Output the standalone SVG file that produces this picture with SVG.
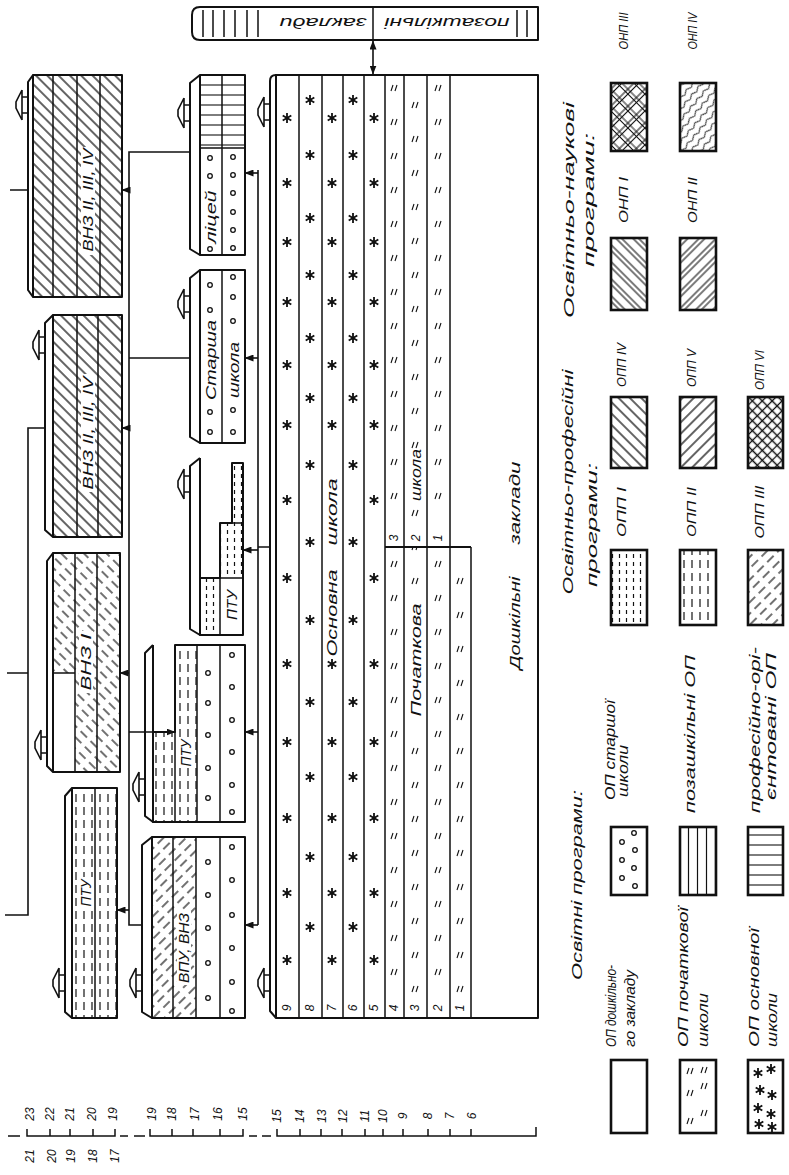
<svg xmlns="http://www.w3.org/2000/svg" width="789" height="1175" viewBox="0 0 789 1175">
<style>
text{font-family:"Liberation Sans","DejaVu Sans",sans-serif;font-style:italic;fill:#111;dominant-baseline:central;text-anchor:middle;font-size:14px}
.s{text-anchor:start}
.sm{font-size:12px}
.lab{font-size:12px}
.o{fill:none;stroke:#111;stroke-width:2;stroke-linejoin:round}
.ob{fill:none;stroke:#111;stroke-width:2.6}
.l{fill:none;stroke:#111;stroke-width:1.5}
.c{fill:none;stroke:#111;stroke-width:1.3}
.w{fill:#fff;stroke:none}
.cn{fill:none;stroke:#111;stroke-width:1.6}
</style>
<defs>
<pattern id="hb" width="8" height="8" patternUnits="userSpaceOnUse" patternTransform="rotate(-45)"><path d="M4,0V8" stroke="#111" stroke-width="1.3"/></pattern>
<pattern id="hf" width="8" height="8" patternUnits="userSpaceOnUse" patternTransform="rotate(45)"><path d="M4,0V8" stroke="#111" stroke-width="1.3"/></pattern>
<pattern id="hbd" width="8" height="14" patternUnits="userSpaceOnUse" patternTransform="rotate(-45)"><path d="M4,0V9" stroke="#111" stroke-width="1.2"/></pattern>
<pattern id="hfd" width="8" height="14" patternUnits="userSpaceOnUse" patternTransform="rotate(45)"><path d="M4,0V9" stroke="#111" stroke-width="1.2"/></pattern>
<pattern id="hx" width="7" height="7" patternUnits="userSpaceOnUse" patternTransform="rotate(45)"><path d="M3.5,0V7M0,3.5H7" stroke="#111" stroke-width="1.3"/></pattern>
<pattern id="hb2" width="12" height="12" patternUnits="userSpaceOnUse" patternTransform="rotate(-45)"><path d="M3,0V12M7,0V12" stroke="#111" stroke-width="1.1"/></pattern>
<pattern id="hf2" width="12" height="12" patternUnits="userSpaceOnUse" patternTransform="rotate(45)"><path d="M3,0V12M7,0V12" stroke="#111" stroke-width="1.1"/></pattern>
<pattern id="hx2" width="12" height="12" patternUnits="userSpaceOnUse" patternTransform="rotate(45)"><path d="M3,0V12M6.5,0V12M0,3H12M0,6.5H12" stroke="#111" stroke-width="1.1"/></pattern>
<pattern id="wv" width="7" height="10" patternUnits="userSpaceOnUse" patternTransform="rotate(40)"><path d="M3.5,0Q6,2.5 3.5,5Q1,7.5 3.5,10" fill="none" stroke="#111" stroke-width="1"/></pattern>
<pattern id="dv" width="8" height="13" patternUnits="userSpaceOnUse"><path d="M4,1V9" stroke="#111" stroke-width="1.2"/></pattern>
<pattern id="dg" width="7" height="8" patternUnits="userSpaceOnUse"><path d="M3.5,2V6" stroke="#111" stroke-width="1.2"/></pattern>
<pattern id="hl" width="10" height="10" patternUnits="userSpaceOnUse"><path d="M0,5H10" stroke="#111" stroke-width="1.1"/></pattern>
<pattern id="vl" width="9" height="10" patternUnits="userSpaceOnUse"><path d="M4.5,0V10" stroke="#111" stroke-width="1.2"/></pattern>
<marker id="ah" markerWidth="9" markerHeight="7" refX="8.5" refY="3.5" orient="auto-start-reverse" markerUnits="userSpaceOnUse"><path d="M0,0 L9,3.5 L0,7 z" fill="#111"/></marker>
<path id="ex" d="M0,-8 H-6 M0,8 H-6 M-6,-15 V15 M-6,-15 L-12,-3 V3 L-6,15" fill="none" stroke="#111" stroke-width="1.6"/>
<path id="st" d="M0,-5 V5 M-4.3,-2.5 L4.3,2.5 M-4.3,2.5 L4.3,-2.5" stroke="#111" stroke-width="1.8"/>
<path id="q" d="M-3,3 L-1,-3 M1,3 L3,-3" stroke="#111" stroke-width="1.1" fill="none"/>
<g id="sA"><use href="#st" y="118"/><use href="#st" y="183"/><use href="#st" y="242"/><use href="#st" y="302"/><use href="#st" y="365"/><use href="#st" y="425"/><use href="#st" y="500"/><use href="#st" y="578"/><use href="#st" y="664"/><use href="#st" y="742"/><use href="#st" y="818"/><use href="#st" y="893"/><use href="#st" y="960"/></g>
<g id="sB"><use href="#st" y="100"/><use href="#st" y="155"/><use href="#st" y="218"/><use href="#st" y="275"/><use href="#st" y="338"/><use href="#st" y="398"/><use href="#st" y="465"/><use href="#st" y="542"/><use href="#st" y="620"/><use href="#st" y="702"/><use href="#st" y="777"/><use href="#st" y="857"/><use href="#st" y="927"/></g>
<g id="qA"><use href="#q" y="88"/><use href="#q" y="122"/><use href="#q" y="156"/><use href="#q" y="190"/><use href="#q" y="224"/><use href="#q" y="258"/><use href="#q" y="292"/><use href="#q" y="326"/><use href="#q" y="360"/><use href="#q" y="394"/><use href="#q" y="428"/><use href="#q" y="462"/><use href="#q" y="496"/><use href="#q" y="530"/><use href="#q" y="564"/><use href="#q" y="598"/><use href="#q" y="632"/><use href="#q" y="666"/><use href="#q" y="700"/><use href="#q" y="734"/><use href="#q" y="768"/><use href="#q" y="802"/><use href="#q" y="836"/><use href="#q" y="870"/><use href="#q" y="904"/><use href="#q" y="938"/><use href="#q" y="972"/></g>
<g id="qB"><use href="#q" y="105"/><use href="#q" y="139"/><use href="#q" y="173"/><use href="#q" y="207"/><use href="#q" y="241"/><use href="#q" y="275"/><use href="#q" y="309"/><use href="#q" y="343"/><use href="#q" y="377"/><use href="#q" y="411"/><use href="#q" y="445"/><use href="#q" y="479"/><use href="#q" y="513"/><use href="#q" y="547"/><use href="#q" y="581"/><use href="#q" y="615"/><use href="#q" y="649"/><use href="#q" y="683"/><use href="#q" y="717"/><use href="#q" y="751"/><use href="#q" y="785"/><use href="#q" y="819"/><use href="#q" y="853"/><use href="#q" y="887"/><use href="#q" y="921"/><use href="#q" y="955"/><use href="#q" y="989"/></g>
<clipPath id="c1"><rect x="445" y="553" width="30" height="460"/></clipPath>
</defs>
<rect width="789" height="1175" fill="#fff"/>

<g id="extracurricular">
<path class="o" d="M200,7 H538 V40 H200 Q192,40 192,32 V15 Q192,7 200,7 Z"/>
<path class="l" d="M203,10V37 M213,10V37 M224,10V37 M235,10V37 M247,10V37 M258,10V37 M373,7V40 M517,10V37 M527,10V37"/>
<text x="447" y="23" textLength="125" lengthAdjust="spacingAndGlyphs" transform="rotate(180 447 23)">позашкільні</text>
<text x="323" y="23" textLength="87" lengthAdjust="spacingAndGlyphs" transform="rotate(180 323 23)">заклади</text>
</g>

<g id="vnz-a">
<rect x="33" y="75" width="89" height="222" fill="url(#hb)"/>
<path class="o" d="M33,75 H122 V297 H33 Z"/>
<path class="o" d="M33,75 L28,82 V290 L33,297"/>
<path class="l" d="M53,75V297 M77,75V297 M100,75V297"/>
<rect class="w" x="81" y="147" width="14" height="108"/>
<text x="88" y="200" textLength="103" lengthAdjust="spacingAndGlyphs" transform="rotate(-90 88 200)">ВНЗ ІІ, ІІІ, ІV</text>
<use href="#ex" x="28" y="105"/>
</g>

<g id="vnz-b">
<rect x="53" y="315" width="69" height="222" fill="url(#hb)"/>
<path class="o" d="M53,315 H122 V537 H53 Z"/>
<path class="o" d="M53,315 L45,323 V530 L53,537"/>
<path class="l" d="M77,315V537 M98,315V537"/>
<rect class="w" x="81" y="374" width="14" height="118"/>
<text x="88" y="433" textLength="113" lengthAdjust="spacingAndGlyphs" transform="rotate(-90 88 433)">ВНЗ ІІ, ІІІ, ІV</text>
<use href="#ex" x="45" y="345"/>
</g>

<g id="vnz-1">
<rect x="75" y="553" width="45" height="219" fill="url(#hbd)"/>
<rect x="53" y="553" width="22" height="120" fill="url(#hbd)"/>
<path class="o" d="M53,553 H120 V772 H53 Z"/>
<path class="o" d="M53,553 L47,561 V766 L53,772"/>
<path class="l" d="M75,553V772 M97,553V772 M53,673H75"/>
<rect class="w" x="79" y="631" width="14" height="62"/>
<text x="86" y="662" textLength="57" lengthAdjust="spacingAndGlyphs" transform="rotate(-90 86 662)">ВНЗ І</text>
<use href="#ex" x="47" y="745"/>
</g>

<g id="ptu-low">
<rect x="72" y="788" width="45" height="230" fill="url(#dv)"/>
<path class="o" d="M72,788 H117 V1018 H72 Z"/>
<path class="o" d="M72,788 L65,796 V1012 L72,1018"/>
<path class="l" d="M95,788V1018"/>
<rect class="w" x="79" y="877" width="14" height="32"/>
<text x="86" y="893" textLength="27" lengthAdjust="spacingAndGlyphs" transform="rotate(-90 86 893)">ПТУ</text>
<use href="#ex" x="65" y="983"/>
</g>

<g id="vpu-vnz">
<rect x="152" y="837" width="44" height="181" fill="url(#hfd)"/>
<path class="o" d="M152,837 H245 V1018 H152 Z"/>
<path class="o" d="M152,837 L142,845 V1012 L152,1018"/>
<path class="l" d="M173,837V1018 M196,837V1018 M220,837V1018"/>
<rect class="w" x="177" y="911" width="14" height="74"/>
<text x="184" y="948" textLength="70" lengthAdjust="spacingAndGlyphs" transform="rotate(-90 184 948)">ВПУ, ВНЗ</text>
<g class="c"><circle cx="208" cy="862" r="2.3"/><circle cx="208" cy="895" r="2.3"/><circle cx="208" cy="928" r="2.3"/><circle cx="208" cy="963" r="2.3"/><circle cx="208" cy="998" r="2.3"/><circle cx="232" cy="847" r="2.3"/><circle cx="232" cy="880" r="2.3"/><circle cx="232" cy="915" r="2.3"/><circle cx="232" cy="948" r="2.3"/><circle cx="232" cy="982" r="2.3"/><circle cx="232" cy="1011" r="2.3"/></g>
<use href="#ex" x="142" y="983"/>
</g>

<g id="ptu-mid">
<rect x="153" y="732" width="22" height="90" fill="url(#dv)"/>
<rect x="175" y="645" width="22" height="177" fill="url(#dv)"/>
<path class="o" d="M153,822 V732 H175 V645 H245 V822 Z"/>
<path class="l" d="M175,732V822 M197,645V822 M220,645V822"/>
<path class="o" d="M153,645 L145,653 V816 L153,822 V645"/>
<rect class="w" x="179" y="738" width="14" height="30"/>
<text x="186" y="753" textLength="27" lengthAdjust="spacingAndGlyphs" transform="rotate(-90 186 753)">ПТУ</text>
<g class="c"><circle cx="208" cy="673" r="2.3"/><circle cx="208" cy="703" r="2.3"/><circle cx="208" cy="735" r="2.3"/><circle cx="208" cy="768" r="2.3"/><circle cx="208" cy="798" r="2.3"/><circle cx="232" cy="655" r="2.3"/><circle cx="232" cy="687" r="2.3"/><circle cx="232" cy="720" r="2.3"/><circle cx="232" cy="752" r="2.3"/><circle cx="232" cy="785" r="2.3"/><circle cx="232" cy="812" r="2.3"/></g>
<use href="#ex" x="145" y="787"/>
</g>

<g id="ptu-small">
<rect x="200" y="578" width="20" height="57" fill="url(#dg)"/>
<rect x="220" y="523" width="23" height="55" fill="url(#dg)"/>
<rect x="232" y="463" width="11" height="60" fill="url(#dg)"/>
<path class="o" d="M200,578 H220 V523 H232 V463 H243 V635 H200 Z"/>
<path class="l" d="M220,578V635 M220,578H243 M232,523H243"/>
<path class="o" d="M200,458 L190,466 V629 L200,635 V458"/>
<text x="232" y="605" textLength="30" lengthAdjust="spacingAndGlyphs" transform="rotate(-90 232 605)">ПТУ</text>
<use href="#ex" x="190" y="484"/>
</g>

<g id="senior-school">
<path class="o" d="M200,270 H245 V443 H200 Z"/>
<path class="o" d="M200,270 L190,278 V437 L200,443"/>
<path class="l" d="M222,270V443"/>
<g class="c"><circle cx="210" cy="285" r="2.3"/><circle cx="210" cy="310" r="2.3"/><circle cx="210" cy="412" r="2.3"/><circle cx="210" cy="432" r="2.3"/><circle cx="233" cy="277" r="2.3"/><circle cx="233" cy="297" r="2.3"/><circle cx="233" cy="321" r="2.3"/><circle cx="233" cy="410" r="2.3"/><circle cx="233" cy="432" r="2.3"/></g>
<text x="211" y="360" textLength="80" lengthAdjust="spacingAndGlyphs" transform="rotate(-90 211 360)">Старша</text>
<text x="234" y="370" textLength="56" lengthAdjust="spacingAndGlyphs" transform="rotate(-90 234 370)">школа</text>
<use href="#ex" x="190" y="304"/>
</g>

<g id="lyceum">
<rect x="200" y="75" width="45" height="73" fill="url(#hl)"/>
<path class="o" d="M200,75 H245 V255 H200 Z"/>
<path class="o" d="M200,75 L190,83 V249 L200,255"/>
<path class="l" d="M222,75V255 M200,148H245"/>
<g class="c"><circle cx="210" cy="158" r="2.3"/><circle cx="210" cy="176" r="2.3"/><circle cx="210" cy="249" r="2.3"/><circle cx="233" cy="157" r="2.3"/><circle cx="233" cy="175" r="2.3"/><circle cx="233" cy="193" r="2.3"/><circle cx="233" cy="212" r="2.3"/><circle cx="233" cy="230" r="2.3"/><circle cx="233" cy="248" r="2.3"/></g>
<text x="211" y="217" textLength="53" lengthAdjust="spacingAndGlyphs" transform="rotate(-90 211 217)">ліцей</text>
<use href="#ex" x="190" y="113"/>
</g>

<g id="school">
<use href="#sA" x="287"/>
<use href="#sB" x="310"/>
<use href="#sA" x="332"/>
<use href="#sB" x="353"/>
<use href="#sA" x="374"/>
<use href="#qA" x="394"/>
<use href="#qB" x="415"/>
<use href="#qA" x="438"/>
<g clip-path="url(#c1)"><use href="#qB" x="460"/></g>
<rect class="w" x="324" y="473" width="16" height="184"/>
<rect class="w" x="407" y="598" width="18" height="124"/>
<rect class="w" x="407" y="449" width="18" height="56"/>
<rect class="w" x="387" y="526" width="15" height="20"/>
<rect class="w" x="407" y="526" width="18" height="20"/>
<rect class="w" x="430" y="526" width="18" height="20"/>
<path class="o" d="M276,75 H538 V1018 H276 Z"/>
<path class="o" d="M276,75 Q270,75 270,81 V1011 L276,1018"/>
<path class="l" d="M299,75V1018 M322,75V1018 M343,75V1018 M364,75V1018 M385,75V1018 M404,75V1018 M427,75V1018 M450,75V1018 M471,547V1018"/>
<path class="o" d="M385,547H471"/>
<text x="332" y="613" textLength="87" lengthAdjust="spacingAndGlyphs" transform="rotate(-90 332 613)">Основна</text>
<text x="332" y="512" textLength="67" lengthAdjust="spacingAndGlyphs" transform="rotate(-90 332 512)">школа</text>
<text x="416" y="660" textLength="113" lengthAdjust="spacingAndGlyphs" transform="rotate(-90 416 660)">Початкова</text>
<text x="416" y="475" textLength="52" lengthAdjust="spacingAndGlyphs" transform="rotate(-90 416 475)">школа</text>
<text x="515" y="623" textLength="93" lengthAdjust="spacingAndGlyphs" transform="rotate(-90 515 623)">Дошкільні</text>
<text x="515" y="503" textLength="83" lengthAdjust="spacingAndGlyphs" transform="rotate(-90 515 503)">заклади</text>
<g>
<text class="sm" x="394" y="538" transform="rotate(-90 394 538)">3</text>
<text class="sm" x="416" y="538" transform="rotate(-90 416 538)">2</text>
<text class="sm" x="438" y="538" transform="rotate(-90 438 538)">1</text>
<text class="sm" x="287" y="1008" transform="rotate(-90 287 1008)">9</text>
<text class="sm" x="310" y="1008" transform="rotate(-90 310 1008)">8</text>
<text class="sm" x="332" y="1008" transform="rotate(-90 332 1008)">7</text>
<text class="sm" x="353" y="1008" transform="rotate(-90 353 1008)">6</text>
<text class="sm" x="374" y="1008" transform="rotate(-90 374 1008)">5</text>
<text class="sm" x="394" y="1008" transform="rotate(-90 394 1008)">4</text>
<text class="sm" x="415" y="1008" transform="rotate(-90 415 1008)">3</text>
<text class="sm" x="438" y="1008" transform="rotate(-90 438 1008)">2</text>
<text class="sm" x="460" y="1008" transform="rotate(-90 460 1008)">1</text>
</g>
<use href="#ex" x="270" y="112"/>
<use href="#ex" x="270" y="983"/>
</g>

<g id="connectors">
<path class="cn" d="M10,190 H28 M45,428 H28 V915 H5 M7,673 H28"/>
<path class="cn" d="M190,152 H129 V925 H142 M190,358 H129"/>
<path class="cn" marker-end="url(#ah)" d="M129,190 H122"/>
<path class="cn" marker-end="url(#ah)" d="M129,428 H122"/>
<path class="cn" marker-end="url(#ah)" d="M129,673 H120"/>
<path class="cn" marker-end="url(#ah)" d="M129,732 H175"/>
<path class="cn" marker-end="url(#ah)" d="M129,910 H117"/>
<path class="cn" d="M270,547 H258 M258,170 V925"/>
<path class="cn" marker-end="url(#ah)" d="M258,173 H245"/>
<path class="cn" marker-end="url(#ah)" d="M258,358 H245"/>
<path class="cn" marker-end="url(#ah)" d="M258,550 H243"/>
<path class="cn" marker-end="url(#ah)" d="M258,732 H245"/>
<path class="cn" marker-end="url(#ah)" d="M258,925 H245"/>
<path class="cn" marker-start="url(#ah)" marker-end="url(#ah)" d="M373,41 V74"/>
</g>

<g id="scale">
<path class="l" d="M8,1136 H20 M27,1129 V1136 H115 V1129 M50,1129V1136 M70,1129V1136 M93,1129V1136 M120,1136 H128 M134,1136 H145 M150,1129 V1136 H243 V1129 M172,1129V1136 M193,1129V1136 M220,1129V1136 M249,1136 H257 M262,1136 H271 M277,1129 V1136 H536 V1127 M300,1129V1136 M321,1129V1136 M342,1129V1136 M365,1129V1136 M383,1129V1136 M403,1129V1136 M428,1129V1136 M450,1129V1136 M471,1129V1136"/>
<g>
<text class="sm" x="30" y="1114" transform="rotate(-90 30 1114)">23</text>
<text class="sm" x="50" y="1114" transform="rotate(-90 50 1114)">22</text>
<text class="sm" x="70" y="1114" transform="rotate(-90 70 1114)">21</text>
<text class="sm" x="92" y="1114" transform="rotate(-90 92 1114)">20</text>
<text class="sm" x="113" y="1114" transform="rotate(-90 113 1114)">19</text>
<text class="sm" x="30" y="1156" transform="rotate(-90 30 1156)">21</text>
<text class="sm" x="52" y="1156" transform="rotate(-90 52 1156)">20</text>
<text class="sm" x="71" y="1156" transform="rotate(-90 71 1156)">19</text>
<text class="sm" x="93" y="1156" transform="rotate(-90 93 1156)">18</text>
<text class="sm" x="115" y="1156" transform="rotate(-90 115 1156)">17</text>
<text class="sm" x="152" y="1114" transform="rotate(-90 152 1114)">19</text>
<text class="sm" x="172" y="1114" transform="rotate(-90 172 1114)">18</text>
<text class="sm" x="195" y="1114" transform="rotate(-90 195 1114)">17</text>
<text class="sm" x="218" y="1114" transform="rotate(-90 218 1114)">16</text>
<text class="sm" x="243" y="1114" transform="rotate(-90 243 1114)">15</text>
<text class="sm" x="277" y="1116" transform="rotate(-90 277 1116)">15</text>
<text class="sm" x="300" y="1116" transform="rotate(-90 300 1116)">14</text>
<text class="sm" x="322" y="1116" transform="rotate(-90 322 1116)">13</text>
<text class="sm" x="343" y="1116" transform="rotate(-90 343 1116)">12</text>
<text class="sm" x="365" y="1116" transform="rotate(-90 365 1116)">11</text>
<text class="sm" x="383" y="1116" transform="rotate(-90 383 1116)">10</text>
<text class="sm" x="403" y="1116" transform="rotate(-90 403 1116)">9</text>
<text class="sm" x="428" y="1116" transform="rotate(-90 428 1116)">8</text>
<text class="sm" x="450" y="1116" transform="rotate(-90 450 1116)">7</text>
<text class="sm" x="472" y="1116" transform="rotate(-90 472 1116)">6</text>
</g>
</g>

<g id="legend">
<text x="569" y="210" textLength="216" lengthAdjust="spacingAndGlyphs" transform="rotate(-90 569 210)">Освітньо-наукові</text>
<text x="589" y="200" textLength="134" lengthAdjust="spacingAndGlyphs" transform="rotate(-90 589 200)">програми:</text>
<text x="568" y="482" textLength="225" lengthAdjust="spacingAndGlyphs" transform="rotate(-90 568 482)">Освітньо-професійні</text>
<text x="592" y="525" textLength="124" lengthAdjust="spacingAndGlyphs" transform="rotate(-90 592 525)">програми:</text>
<text x="577" y="885" textLength="190" lengthAdjust="spacingAndGlyphs" transform="rotate(-90 577 885)">Освітні програми:</text>

<g id="leg-onp3"><rect x="611" y="83" width="36" height="68" fill="url(#hx2)"/><rect class="ob" x="611" y="83" width="36" height="68"/><text class="lab" x="624" y="31" textLength="37" lengthAdjust="spacingAndGlyphs" transform="rotate(-90 624 31)">ОНП ІІІ</text></g>
<g id="leg-onp4"><rect x="680" y="83" width="36" height="68" fill="url(#wv)"/><rect class="ob" x="680" y="83" width="36" height="68"/><text class="lab" x="693" y="31" textLength="37" lengthAdjust="spacingAndGlyphs" transform="rotate(-90 693 31)">ОНП ІV</text></g>
<g id="leg-onp1"><rect x="611" y="238" width="36" height="72" fill="url(#hb2)"/><rect class="ob" x="611" y="238" width="36" height="72"/><text class="lab" x="624" y="200" textLength="46" lengthAdjust="spacingAndGlyphs" transform="rotate(-90 624 200)">ОНП І</text></g>
<g id="leg-onp2"><rect x="680" y="238" width="36" height="72" fill="url(#hf2)"/><rect class="ob" x="680" y="238" width="36" height="72"/><text class="lab" x="693" y="200" textLength="46" lengthAdjust="spacingAndGlyphs" transform="rotate(-90 693 200)">ОНП ІІ</text></g>

<g id="leg-opp4"><rect x="611" y="397" width="36" height="71" fill="url(#hb)"/><rect class="ob" x="611" y="397" width="36" height="71"/><text class="lab" x="622" y="365" textLength="44" lengthAdjust="spacingAndGlyphs" transform="rotate(-90 622 365)">ОПП ІV</text></g>
<g id="leg-opp5"><rect x="680" y="397" width="36" height="71" fill="url(#hf)"/><rect class="ob" x="680" y="397" width="36" height="71"/><text class="lab" x="692" y="368" textLength="38" lengthAdjust="spacingAndGlyphs" transform="rotate(-90 692 368)">ОПП V</text></g>
<g id="leg-opp6"><rect x="748" y="397" width="35" height="71" fill="url(#hx)"/><rect class="ob" x="748" y="397" width="35" height="71"/><text class="lab" x="760" y="370" textLength="40" lengthAdjust="spacingAndGlyphs" transform="rotate(-90 760 370)">ОПП VІ</text></g>

<g id="leg-opp1"><rect x="611" y="550" width="36" height="75" fill="url(#dg)"/><rect class="ob" x="611" y="550" width="36" height="75"/><text class="lab" x="622" y="512" textLength="50" lengthAdjust="spacingAndGlyphs" transform="rotate(-90 622 512)">ОПП І</text></g>
<g id="leg-opp2"><rect x="680" y="550" width="36" height="75" fill="url(#dv)"/><rect class="ob" x="680" y="550" width="36" height="75"/><text class="lab" x="692" y="512" textLength="50" lengthAdjust="spacingAndGlyphs" transform="rotate(-90 692 512)">ОПП ІІ</text></g>
<g id="leg-opp3"><rect x="748" y="550" width="35" height="75" fill="url(#hfd)"/><rect class="ob" x="748" y="550" width="35" height="75"/><text class="lab" x="760" y="512" textLength="53" lengthAdjust="spacingAndGlyphs" transform="rotate(-90 760 512)">ОПП ІІІ</text></g>

<g id="leg-senior"><rect class="ob" x="611" y="827" width="36" height="68"/>
<g class="c"><circle cx="622" cy="842" r="2.3"/><circle cx="634" cy="833" r="2.3"/><circle cx="622" cy="860" r="2.3"/><circle cx="635" cy="850" r="2.3"/><circle cx="622" cy="878" r="2.3"/><circle cx="634" cy="868" r="2.3"/><circle cx="635" cy="886" r="2.3"/></g>
<text class="s" x="610" y="800" textLength="100" lengthAdjust="spacingAndGlyphs" transform="rotate(-90 610 800)">ОП старшої</text>
<text class="s" x="623" y="797" textLength="52" lengthAdjust="spacingAndGlyphs" transform="rotate(-90 623 797)">школи</text></g>
<g id="leg-extra"><rect x="680" y="827" width="36" height="68" fill="url(#vl)"/><rect class="ob" x="680" y="827" width="36" height="68"/>
<text class="s" x="690" y="813" textLength="158" lengthAdjust="spacingAndGlyphs" transform="rotate(-90 690 813)">позашкільні ОП</text></g>
<g id="leg-prof"><rect x="748" y="827" width="35" height="68" fill="url(#hl)"/><rect class="ob" x="748" y="827" width="35" height="68"/>
<text class="s" x="755" y="813" textLength="166" lengthAdjust="spacingAndGlyphs" transform="rotate(-90 755 813)">професійно-орі-</text>
<text class="s" x="771" y="800" textLength="147" lengthAdjust="spacingAndGlyphs" transform="rotate(-90 771 800)">єнтовані ОП</text></g>

<g id="leg-preschool"><rect class="ob" x="611" y="1060" width="36" height="73"/>
<text class="s" x="611" y="1047" textLength="82" lengthAdjust="spacingAndGlyphs" transform="rotate(-90 611 1047)">ОП дошкільно-</text>
<text class="s" x="630" y="1047" textLength="77" lengthAdjust="spacingAndGlyphs" transform="rotate(-90 630 1047)">го закладу</text></g>
<g id="leg-primary"><rect class="ob" x="680" y="1060" width="36" height="73"/>
<use href="#q" x="690" y="1071"/><use href="#q" x="704" y="1070"/><use href="#q" x="690" y="1093"/><use href="#q" x="704" y="1086"/><use href="#q" x="690" y="1121"/><use href="#q" x="704" y="1113"/>
<text class="s" x="683" y="1047" textLength="140" lengthAdjust="spacingAndGlyphs" transform="rotate(-90 683 1047)">ОП початкової</text>
<text class="s" x="703" y="1047" textLength="54" lengthAdjust="spacingAndGlyphs" transform="rotate(-90 703 1047)">школи</text></g>
<g id="leg-basic"><rect class="ob" x="748" y="1060" width="35" height="73"/>
<use href="#st" x="758" y="1073"/><use href="#st" x="771" y="1069"/><use href="#st" x="760" y="1090"/><use href="#st" x="772" y="1095"/><use href="#st" x="758" y="1108"/><use href="#st" x="771" y="1114"/><use href="#st" x="759" y="1124"/><use href="#st" x="772" y="1127"/>
<text class="s" x="754" y="1047" textLength="119" lengthAdjust="spacingAndGlyphs" transform="rotate(-90 754 1047)">ОП основної</text>
<text class="s" x="772" y="1047" textLength="54" lengthAdjust="spacingAndGlyphs" transform="rotate(-90 772 1047)">школи</text></g>
</g>
</svg>
